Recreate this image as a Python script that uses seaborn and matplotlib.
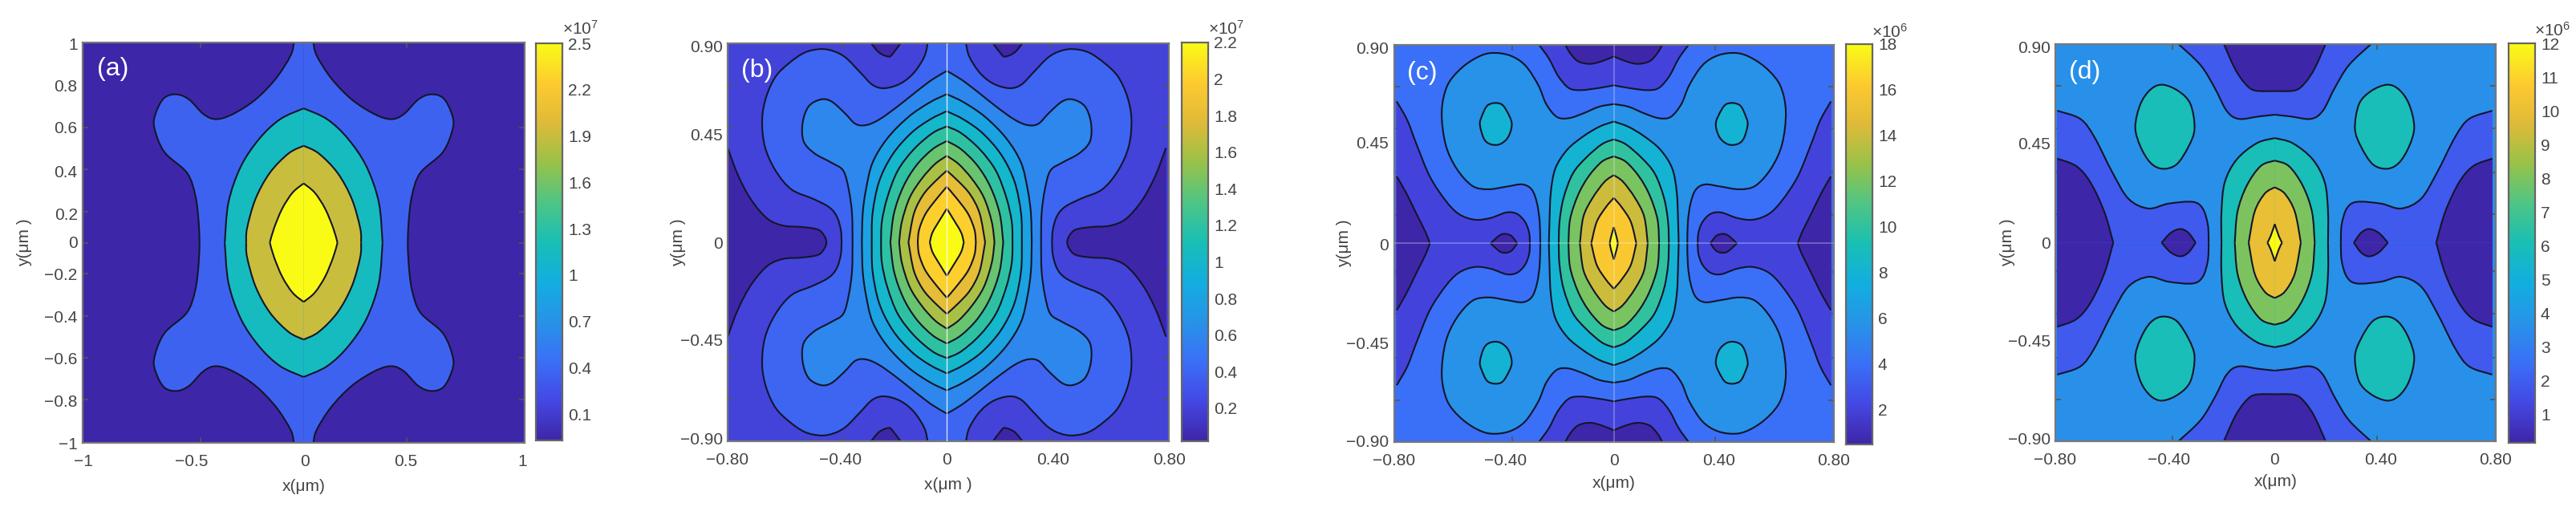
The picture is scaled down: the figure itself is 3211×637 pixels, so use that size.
import numpy as np
import matplotlib
matplotlib.use("Agg")
import matplotlib.pyplot as plt
from matplotlib.path import Path
from matplotlib.patches import PathPatch
from matplotlib.ticker import FixedLocator, NullFormatter
import seaborn as sns

# parula-like colours
parula_colors = ["#3e26a8", "#4448e4", "#3a70f7", "#2793e8", "#12aee0", "#18bfb4",
                 "#4ec585", "#98c248", "#dfba38", "#fdca30", "#f9fb15"]

# panel (a), contours in the upper right quadrant
a_c0_x = [0.044, 0.059, 0.125, 0.218, 0.321, 0.396, 0.453, 0.518, 0.575, 0.631, 0.668, 0.676, 0.631, 0.528, 0.490, 0.475, 0.471]
a_c0_y = [1.0, 0.935, 0.821, 0.715, 0.642, 0.617, 0.642, 0.715, 0.741, 0.723, 0.650, 0.577, 0.454, 0.349, 0.235, 0.104, 0.0]
a_c1_x = [0.0, 0.106, 0.200, 0.284, 0.340, 0.357]
a_c1_y = [0.671, 0.617, 0.520, 0.381, 0.202, 0.0]
a_c2_x = [0.0, 0.068, 0.153, 0.218, 0.256, 0.260]
a_c2_y = [0.484, 0.446, 0.349, 0.218, 0.072, 0.0]
a_c3_x = [0.0, 0.050, 0.097, 0.134, 0.153]
a_c3_y = [0.296, 0.250, 0.170, 0.072, 0.0]

# panel (b)
b_lobe_x = [0.169, 0.198, 0.213, 0.247, 0.276]
b_lobe_y = [0.9, 0.852, 0.840, 0.858, 0.9]
b_side_x = [0.8, 0.761, 0.713, 0.654, 0.596, 0.528, 0.470, 0.446, 0.439]
b_side_y = [0.427, 0.300, 0.190, 0.106, 0.075, 0.069, 0.057, 0.027, 0.0]
b_c0_x = [0.070, 0.082, 0.120, 0.169, 0.227, 0.271, 0.315, 0.368, 0.412, 0.460, 0.519, 0.577, 0.625, 0.659, 0.674, 0.664, 0.625, 0.567, 0.489, 0.431, 0.402, 0.387, 0.384]
b_c0_y = [0.9, 0.840, 0.767, 0.718, 0.697, 0.712, 0.767, 0.834, 0.864, 0.874, 0.858, 0.809, 0.749, 0.658, 0.555, 0.433, 0.324, 0.239, 0.197, 0.160, 0.118, 0.057, 0.0]
b_c1_x = [0.0, 0.052, 0.111, 0.179, 0.247, 0.295, 0.334, 0.373, 0.421, 0.460, 0.504, 0.526, 0.523, 0.484, 0.421, 0.378, 0.358, 0.346, 0.344]
b_c1_y = [0.775, 0.737, 0.682, 0.615, 0.555, 0.530, 0.536, 0.585, 0.637, 0.646, 0.615, 0.542, 0.458, 0.403, 0.360, 0.324, 0.239, 0.130, 0.0]
b_c2_x = [0.0, 0.062, 0.140, 0.217, 0.271, 0.295, 0.307, 0.310]
b_c2_y = [0.670, 0.633, 0.567, 0.470, 0.360, 0.239, 0.130, 0.0]
b_c3_x = [0.0, 0.062, 0.130, 0.198, 0.247, 0.271, 0.274]
b_c3_y = [0.593, 0.555, 0.494, 0.397, 0.275, 0.130, 0.0]
b_c4_x = [0.0, 0.052, 0.120, 0.179, 0.217, 0.237, 0.240]
b_c4_y = [0.524, 0.494, 0.421, 0.324, 0.203, 0.093, 0.0]
b_c5_x = [0.0, 0.052, 0.111, 0.159, 0.193, 0.206]
b_c5_y = [0.458, 0.421, 0.348, 0.251, 0.130, 0.0]
b_c6_x = [0.0, 0.043, 0.091, 0.135, 0.164, 0.174]
b_c6_y = [0.391, 0.354, 0.288, 0.203, 0.093, 0.0]
b_c7_x = [0.0, 0.043, 0.086, 0.120, 0.140]
b_c7_y = [0.324, 0.275, 0.215, 0.130, 0.0]
b_c8_x = [0.0, 0.033, 0.077, 0.101, 0.106]
b_c8_y = [0.251, 0.203, 0.130, 0.057, 0.0]
b_c9_x = [0.0, 0.023, 0.052, 0.062]
b_c9_y = [0.152, 0.106, 0.045, 0.0]

# panel (c)
c_topdark_x = [0.0, 0.044, 0.088, 0.132, 0.161, 0.179]
c_topdark_y = [0.847, 0.825, 0.813, 0.825, 0.862, 0.9]
c_topind_x = [0.0, 0.054, 0.122, 0.166, 0.205, 0.239, 0.276]
c_topind_y = [0.716, 0.704, 0.694, 0.704, 0.758, 0.837, 0.9]
c_sideind_x = [0.8, 0.761, 0.727, 0.678, 0.620, 0.571, 0.512, 0.454, 0.395, 0.356, 0.327, 0.312, 0.309]
c_sideind_y = [0.643, 0.558, 0.449, 0.303, 0.194, 0.133, 0.107, 0.115, 0.140, 0.133, 0.097, 0.049, 0.0]
c_sidedark_x = [0.8, 0.766, 0.727, 0.693, 0.678]
c_sidedark_y = [0.303, 0.231, 0.133, 0.049, 0.0]
c_spot_x = [0.356, 0.380, 0.415, 0.454]
c_spot_y = [0.0, 0.036, 0.040, 0.0]
c_lobe_x = [0.0, 0.054, 0.112, 0.166, 0.210, 0.249, 0.278, 0.327, 0.385, 0.454, 0.512, 0.571, 0.615, 0.634, 0.620, 0.580, 0.522, 0.463, 0.395, 0.337, 0.302, 0.283, 0.273, 0.271]
c_lobe_y = [0.631, 0.619, 0.589, 0.567, 0.573, 0.631, 0.716, 0.807, 0.852, 0.862, 0.837, 0.783, 0.710, 0.595, 0.449, 0.340, 0.261, 0.245, 0.257, 0.267, 0.243, 0.182, 0.097, 0.0]
c_isle_x = [0.415, 0.463, 0.488, 0.493, 0.478, 0.454, 0.420, 0.390, 0.376, 0.385]
c_isle_y = [0.631, 0.627, 0.570, 0.534, 0.473, 0.449, 0.449, 0.480, 0.534, 0.577]
c_c8_x = [0.0, 0.054, 0.112, 0.171, 0.215, 0.232, 0.237, 0.239]
c_c8_y = [0.552, 0.528, 0.485, 0.425, 0.340, 0.231, 0.097, 0.0]
c_c10_x = [0.0, 0.044, 0.102, 0.151, 0.185, 0.200, 0.203]
c_c10_y = [0.471, 0.449, 0.388, 0.316, 0.206, 0.097, 0.0]
c_c12_x = [0.0, 0.044, 0.093, 0.132, 0.161, 0.167]
c_c12_y = [0.394, 0.370, 0.303, 0.218, 0.109, 0.0]
c_c14_x = [0.0, 0.034, 0.078, 0.112, 0.125]
c_c14_y = [0.309, 0.279, 0.206, 0.121, 0.0]
c_c16_x = [0.0, 0.029, 0.063, 0.083]
c_c16_y = [0.206, 0.164, 0.097, 0.0]
c_c18_x = [0.0, 0.010, 0.015]
c_c18_y = [0.073, 0.030, 0.0]

# panel (d)
d_topind_x = [0.0, 0.059, 0.133, 0.177, 0.221, 0.273, 0.354]
d_topind_y = [0.580, 0.572, 0.561, 0.598, 0.702, 0.805, 0.9]
d_topdark_x = [0.0, 0.074, 0.111, 0.147, 0.187]
d_topdark_y = [0.687, 0.690, 0.724, 0.790, 0.9]
d_sideind_x = [0.8, 0.715, 0.664, 0.597, 0.538, 0.465, 0.391, 0.302, 0.265, 0.246, 0.243]
d_sideind_y = [0.598, 0.561, 0.480, 0.318, 0.199, 0.155, 0.177, 0.185, 0.155, 0.081, 0.0]
d_sidedark_x = [0.8, 0.730, 0.678, 0.627, 0.594]
d_sidedark_y = [0.381, 0.347, 0.273, 0.140, 0.0]
d_spot_x = [0.291, 0.317, 0.347, 0.383, 0.416]
d_spot_y = [0.0, 0.044, 0.062, 0.044, 0.0]
d_isle_x = [0.413, 0.457, 0.494, 0.513, 0.494, 0.457, 0.413, 0.361, 0.317, 0.295, 0.310, 0.354]
d_isle_y = [0.716, 0.694, 0.628, 0.524, 0.436, 0.362, 0.335, 0.355, 0.436, 0.517, 0.628, 0.687]
d_c6_x = [0.0, 0.066, 0.140, 0.184, 0.196, 0.196]
d_c6_y = [0.474, 0.451, 0.377, 0.273, 0.140, 0.0]
d_c8_x = [0.0, 0.052, 0.103, 0.137, 0.147]
d_c8_y = [0.372, 0.347, 0.258, 0.140, 0.0]
d_c10_x = [0.0, 0.037, 0.074, 0.096]
d_c10_y = [0.251, 0.222, 0.140, 0.0]
d_c12_x = [0.0, 0.015, 0.027]
d_c12_y = [0.084, 0.030, 0.0]

# tick labels and where they sit
a_xlab_pos = [-0.995, -0.507, 0.007, 0.462, 0.99]
a_xlab = ["−1", "−0.5", "0", "0.5", "1"]
a_xmarks = [-0.466, 0.0, 0.468]
a_ylab_pos = [0.992, 0.785, 0.577, 0.357, 0.145, 0.003, -0.156, -0.368, -0.577, -0.788, -1.0]
a_ylab = ["1", "0.8", "0.6", "0.4", "0.2", "0", "−0.2", "−0.4", "−0.6", "−0.8", "−1"]
a_ymarks = [0.785, 0.575, 0.365, 0.155, 0.0, -0.155, -0.365, -0.575, -0.785]
b_xlab_pos = [-0.80, -0.387, 0.0, 0.387, 0.812]
c_xlab_pos = [-0.81, -0.40, 0.0, 0.388, 0.81]
d_xlab_pos = [-0.807, -0.388, 0.0, 0.39, 0.813]
um_xlab = ["−0.80", "−0.40", "0", "0.40", "0.80"]
b_xmarks = [-0.378, 0.0, 0.378]
c_xmarks = [-0.373, 0.0, 0.373]
d_xmarks = [-0.376, 0.0, 0.376]
b_ylab_pos = [0.889, 0.487, 0.0, -0.44, -0.888]
c_ylab_pos = [0.885, 0.458, -0.003, -0.45, -0.895]
d_ylab_pos = [0.889, 0.452, 0.0, -0.443, -0.887]
um_ylab = ["0.90", "0.45", "0", "−0.45", "−0.90"]
um_ymarks = [0.71, 0.52, 0.32, 0.13, 0.0, -0.13, -0.32, -0.52, -0.71]

# colour bars
a_cb_ticks = [0.1, 0.4, 0.7, 1.0, 1.3, 1.6, 1.9, 2.2, 2.5]
a_cb_labels = ["0.1", "0.4", "0.7", "1", "1.3", "1.6", "1.9", "2.2", "2.5"]
b_cb_ticks = [0.2, 0.4, 0.6, 0.8, 1.0, 1.2, 1.4, 1.6, 1.8, 2.0, 2.2]
b_cb_labels = ["0.2", "0.4", "0.6", "0.8", "1", "1.2", "1.4", "1.6", "1.8", "2", "2.2"]
c_cb_ticks = [2, 4, 6, 8, 10, 12, 14, 16, 18]
d_cb_ticks = [1, 2, 3, 4, 5, 6, 7, 8, 9, 10, 11, 12]

W, H = 3212, 637
TEXT = "#454545"

sns.set_style("ticks")
plt.rcParams["font.family"] = ["Liberation Sans", "DejaVu Sans"]
plt.rcParams["mathtext.default"] = "regular"
parula = sns.blend_palette(parula_colors, n_colors=256, as_cmap=True)

fig = plt.figure(figsize=(W / 100, H / 100), dpi=100, facecolor="white")


def px_axes(left, top, right, bottom):
    return fig.add_axes([left / W, 1 - bottom / H, (right - left) / W, (bottom - top) / H])


def curve(x, y, closed=False):
    p = np.column_stack([x, y]).astype(float)
    n = len(p)
    verts, codes = [p[0]], [Path.MOVETO]
    for i in range(n if closed else n - 1):
        if closed:
            p0, p1, p2, p3 = p[(i - 1) % n], p[i], p[(i + 1) % n], p[(i + 2) % n]
        else:
            p0, p1, p2, p3 = p[max(i - 1, 0)], p[i], p[i + 1], p[min(i + 2, n - 1)]
        verts += [p1 + (p2 - p0) / 6, p2 - (p3 - p1) / 6, p2]
        codes += [Path.CURVE4] * 3
    return np.array(verts), codes


def draw_region(ax, x, y, kind, color, xmax, ymax):
    closed = kind == "island"
    verts, codes = curve(x, y, closed)
    if kind == "center":
        fill_v = np.vstack([[0, y[0]], verts, [0, 0]])
        fill_c = [Path.MOVETO, Path.LINETO] + codes[1:] + [Path.LINETO]
    elif kind == "top":
        fill_v = np.vstack([[0, ymax], verts])
        fill_c = [Path.MOVETO, Path.LINETO] + codes[1:]
    elif kind == "side":
        fill_v = np.vstack([[xmax, 0], verts])
        fill_c = [Path.MOVETO, Path.LINETO] + codes[1:]
    else:
        fill_v, fill_c = verts, codes
    for sx in (1, -1):
        for sy in (1, -1):
            flip = np.array([sx, sy])
            ax.add_patch(PathPatch(Path(fill_v * flip, fill_c), facecolor=color, edgecolor=color, lw=0.6, zorder=1))
    for sx in (1, -1):
        for sy in (1, -1):
            flip = np.array([sx, sy])
            ax.add_patch(PathPatch(Path(verts * flip, codes), fill=False, edgecolor="#15152a", lw=1.5, zorder=2))


def draw_panel(box, cbox, xmax, ymax, vmin, vmax, bg, regions, label, label_xy, xlab_pos, xlab, xmarks,
               ylab_pos, ylab, ymarks, xlabel, ylabel, xlabel_px, ylabel_px, cb_ticks, cb_labels, power, power_px):
    ax = px_axes(*box)
    color = lambda v: parula((v - vmin) / (vmax - vmin))
    ax.set_facecolor(color(bg))
    ax.set_xlim(-xmax, xmax)
    ax.set_ylim(-ymax, ymax)
    for x, y, kind, v in regions:
        draw_region(ax, x, y, kind, color(v), xmax, ymax)
    ax.set_xticks(xlab_pos)
    ax.set_xticklabels(xlab)
    ax.set_yticks(ylab_pos)
    ax.set_yticklabels(ylab)
    ax.tick_params(which="major", length=0, labelsize=15, colors=TEXT)
    ax.tick_params(axis="x", which="major", pad=10)
    ax.tick_params(axis="y", which="major", pad=4.5)
    ax.xaxis.set_minor_locator(FixedLocator(xmarks))
    ax.yaxis.set_minor_locator(FixedLocator(ymarks))
    ax.xaxis.set_minor_formatter(NullFormatter())
    ax.yaxis.set_minor_formatter(NullFormatter())
    ax.tick_params(which="minor", direction="in", length=5, width=1.2, color="#555555",
                   top=True, bottom=True, left=True, right=True)
    for s in ax.spines.values():
        s.set_visible(True)
        s.set_color("#777777")
        s.set_linewidth(1.6)
    ax.set_xlabel(xlabel, fontsize=15, color=TEXT, va="center")
    ax.set_ylabel(ylabel, fontsize=15, color=TEXT, va="center")
    ax.xaxis.set_label_coords(0.5, (box[3] - xlabel_px) / (box[3] - box[1]))
    ax.yaxis.set_label_coords((ylabel_px - box[0]) / (box[2] - box[0]), 0.5)
    ax.text(label_xy[0], label_xy[1], label, color="white", fontsize=23, ha="center", va="center", zorder=4)

    # colour bar
    cax = px_axes(*cbox)
    n = 256
    grad = np.linspace(vmax, vmin, n)[:, None]
    sns.heatmap(grad, ax=cax, cmap=parula, vmin=vmin, vmax=vmax, cbar=False, xticklabels=False, yticklabels=False)
    cax.yaxis.tick_right()
    cax.set_yticks([(vmax - t) / (vmax - vmin) * n for t in cb_ticks])
    cax.set_yticklabels(cb_labels, rotation=0)
    cax.tick_params(axis="y", direction="in", length=5, width=1.2, color="#555555", labelsize=15,
                    labelcolor=TEXT, pad=5)
    cax.tick_params(axis="x", length=0)
    for s in cax.spines.values():
        s.set_visible(True)
        s.set_color("#666666")
        s.set_linewidth(1.6)
    fig.text(power_px[0] / W, 1 - power_px[1] / H, "×10$^{%d}$" % power, color=TEXT, fontsize=15, ha="center", va="center")
    return ax


a_regions = [(a_c0_x, a_c0_y, "center", 0.36), (a_c1_x, a_c1_y, "center", 1.15),
             (a_c2_x, a_c2_y, "center", 1.9), (a_c3_x, a_c3_y, "center", 2.5)]
draw_panel((103, 53, 654, 552), (668, 54, 701, 549), 1.0, 1.0, -0.07, 2.5, -0.07, a_regions,
           "(a)", (-0.865, 0.866), a_xlab_pos, a_xlab, a_xmarks, a_ylab_pos, a_ylab, a_ymarks,
           "x(μm)", "y(μm )", 607, 31, a_cb_ticks, a_cb_labels, 7, (723, 36))

b_regions = [(b_lobe_x, b_lobe_y, "lobe", 0.02), (b_side_x, b_side_y, "side", 0.02),
             (b_c0_x, b_c0_y, "center", 0.4), (b_c1_x, b_c1_y, "center", 0.6),
             (b_c2_x, b_c2_y, "center", 0.8), (b_c3_x, b_c3_y, "center", 1.0),
             (b_c4_x, b_c4_y, "center", 1.2), (b_c5_x, b_c5_y, "center", 1.4),
             (b_c6_x, b_c6_y, "center", 1.6), (b_c7_x, b_c7_y, "center", 1.8),
             (b_c8_x, b_c8_y, "center", 2.0), (b_c9_x, b_c9_y, "center", 2.2)]
ax_b = draw_panel((907, 54, 1457.5, 550), (1473.5, 53, 1506, 550), 0.8, 0.9, 0.02, 2.2, 0.2, b_regions,
                  "(b)", (-0.694, 0.778), b_xlab_pos, um_xlab, b_xmarks, b_ylab_pos, um_ylab, um_ymarks,
                  "x(μm )", "y(μm )", 604, 846, b_cb_ticks, b_cb_labels, 7, (1528, 36))
ax_b.axvline(0, color="white", lw=1, alpha=0.8, zorder=3)

c_regions = [(c_topind_x, c_topind_y, "top", 2), (c_topdark_x, c_topdark_y, "top", 0.47),
             (c_sideind_x, c_sideind_y, "side", 2), (c_sidedark_x, c_sidedark_y, "side", 0.47),
             (c_spot_x, c_spot_y, "lobe", 0.47), (c_lobe_x, c_lobe_y, "center", 5.7),
             (c_isle_x, c_isle_y, "island", 8), (c_c8_x, c_c8_y, "center", 8),
             (c_c10_x, c_c10_y, "center", 10), (c_c12_x, c_c12_y, "center", 12),
             (c_c14_x, c_c14_y, "center", 14), (c_c16_x, c_c16_y, "center", 16),
             (c_c18_x, c_c18_y, "center", 18)]
ax_c = draw_panel((1737.6, 55.7, 2285.6, 551), (2301, 55, 2334, 553.6), 0.8, 0.9, 0.47, 18, 4, c_regions,
                  "(c)", (-0.705, 0.77), c_xlab_pos, um_xlab, c_xmarks, c_ylab_pos, um_ylab, um_ymarks,
                  "x(μm)", "y(μm )", 602, 1676, c_cb_ticks, [str(t) for t in c_cb_ticks], 6, (2356, 40))
ax_c.axvline(0, color="white", lw=1.2, alpha=0.3, zorder=3)
ax_c.axhline(0, color="white", lw=1.2, alpha=0.3, zorder=3)

d_regions = [(d_topind_x, d_topind_y, "top", 1.9), (d_topdark_x, d_topdark_y, "top", 0.155),
             (d_sideind_x, d_sideind_y, "side", 1.9), (d_sidedark_x, d_sidedark_y, "side", 0.155),
             (d_spot_x, d_spot_y, "lobe", 0.155), (d_isle_x, d_isle_y, "island", 6),
             (d_c6_x, d_c6_y, "center", 6), (d_c8_x, d_c8_y, "center", 8),
             (d_c10_x, d_c10_y, "center", 10), (d_c12_x, d_c12_y, "center", 12)]
draw_panel((2562, 55, 3111, 550), (3127, 54, 3160, 552), 0.8, 0.9, 0.155, 12, 3.6, d_regions,
           "(d)", (-0.698, 0.772), d_xlab_pos, um_xlab, d_xmarks, d_ylab_pos, um_ylab, um_ymarks,
           "x(μm)", "y(μm )", 600, 2503, d_cb_ticks, [str(t) for t in d_cb_ticks], 6, (3182, 38))

fig.savefig("out.png", dpi=100)
